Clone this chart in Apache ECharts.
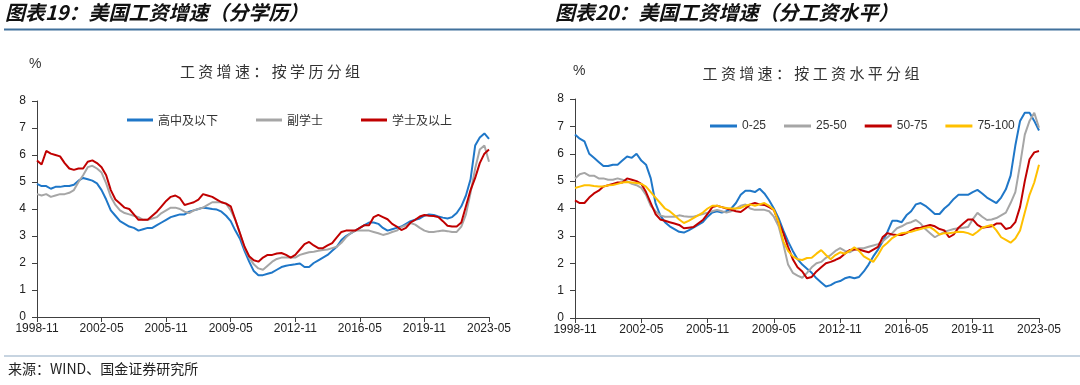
<!DOCTYPE html>
<html>
<head>
<meta charset="utf-8">
<script src="https://cdn.jsdelivr.net/npm/echarts@6/dist/echarts.min.js"></script>
<style>
html,body{margin:0;padding:0;background:#fff;}
#c{width:1080px;height:385px;}
</style>
</head>
<body>
<div id="c"></div>
<script>
// Quarterly sample grid: month offsets from 1998-11 (0 .. 294, every 3 months)
var sampleMonths = [];
for (var k = 0; k <= 294; k += 3) sampleMonths.push(k);

var tickLabels = ['1998-11','2002-05','2005-11','2009-05','2012-11','2016-05','2019-11','2023-05'];

// Chart 19: by education
var eduNames = ['高中及以下','副学士','学士及以上'];
var eduHighSchool = [4.93,4.85,4.85,4.75,4.82,4.82,4.85,4.85,4.90,5.05,
 5.15,5.10,5.05,4.95,4.70,4.35,3.95,3.75,3.55,3.45,
 3.35,3.30,3.20,3.25,3.30,3.30,3.40,3.50,3.60,3.70,
 3.75,3.80,3.80,3.90,3.95,4.00,4.05,4.03,4.00,3.98,
 3.90,3.75,3.55,3.20,2.90,2.45,2.05,1.70,1.55,1.55,
 1.60,1.65,1.75,1.85,1.90,1.93,1.95,1.98,1.85,1.85,
 2.00,2.10,2.20,2.30,2.45,2.60,2.85,3.00,3.10,3.20,
 3.30,3.40,3.50,3.50,3.45,3.30,3.20,3.25,3.30,3.35,
 3.45,3.55,3.60,3.65,3.75,3.80,3.78,3.72,3.68,3.65,
 3.70,3.85,4.10,4.50,5.10,6.35,6.65,6.80,6.60];
var eduAssociate = [4.55,4.50,4.55,4.45,4.50,4.55,4.55,4.60,4.70,5.00,
 5.25,5.55,5.60,5.50,5.35,4.95,4.45,4.15,3.95,3.85,
 3.80,3.75,3.70,3.60,3.60,3.65,3.70,3.85,3.95,4.05,
 4.05,4.00,3.90,3.85,3.95,4.00,4.05,4.15,4.25,4.25,
 4.25,4.20,3.95,3.60,3.10,2.55,2.20,1.95,1.80,1.75,
 1.90,2.05,2.15,2.20,2.20,2.20,2.20,2.30,2.35,2.40,
 2.42,2.45,2.48,2.50,2.55,2.60,2.75,2.95,3.10,3.20,
 3.20,3.20,3.20,3.15,3.10,3.04,3.08,3.15,3.20,3.33,
 3.40,3.48,3.42,3.30,3.20,3.15,3.15,3.18,3.20,3.18,
 3.15,3.15,3.35,3.80,4.60,5.50,6.20,6.35,5.75];
var eduBachelor = [5.80,5.65,6.15,6.05,6.00,5.95,5.70,5.50,5.45,5.50,
 5.50,5.75,5.80,5.70,5.55,5.25,4.70,4.35,4.20,4.05,
 4.00,3.80,3.60,3.60,3.60,3.75,3.90,4.10,4.30,4.45,
 4.50,4.40,4.15,4.20,4.25,4.35,4.55,4.50,4.45,4.35,
 4.25,4.20,4.10,3.60,3.10,2.60,2.25,2.10,2.05,2.20,
 2.30,2.30,2.35,2.37,2.30,2.20,2.30,2.50,2.70,2.78,
 2.65,2.55,2.55,2.65,2.74,2.95,3.15,3.20,3.20,3.20,
 3.30,3.40,3.40,3.70,3.78,3.70,3.62,3.45,3.35,3.22,
 3.30,3.50,3.60,3.72,3.78,3.75,3.74,3.70,3.55,3.38,
 3.35,3.35,3.50,4.10,4.70,5.15,5.70,6.05,6.20];

// Chart 20: by wage quartile
var wageNames = ['0-25','25-50','50-75','75-100'];
var wageQ1 = [6.70,6.55,6.45,6.00,5.85,5.70,5.55,5.55,5.60,5.60,
 5.75,5.90,5.85,6.00,5.75,5.60,5.10,4.20,3.75,3.50,
 3.35,3.25,3.15,3.12,3.20,3.30,3.40,3.50,3.70,3.85,
 3.90,3.85,3.90,4.00,4.20,4.50,4.65,4.65,4.60,4.72,
 4.55,4.30,4.00,3.65,3.20,2.80,2.45,2.15,1.95,1.80,
 1.65,1.45,1.30,1.15,1.20,1.30,1.35,1.45,1.50,1.45,
 1.50,1.70,1.95,2.25,2.50,2.80,3.15,3.55,3.55,3.50,
 3.75,3.90,4.15,4.20,4.10,3.95,3.80,3.80,4.00,4.15,
 4.35,4.50,4.50,4.50,4.60,4.68,4.55,4.40,4.30,4.20,
 4.40,4.70,5.20,6.30,7.20,7.50,7.50,7.20,6.85];
var wageQ2 = [5.10,5.25,5.30,5.20,5.20,5.10,5.10,5.05,5.05,5.10,
 5.05,5.00,4.90,4.85,4.75,4.50,4.10,3.90,3.75,3.70,
 3.70,3.70,3.75,3.72,3.70,3.70,3.75,3.80,3.85,3.90,
 3.95,3.90,3.85,3.90,4.00,4.10,4.15,4.00,3.95,3.95,
 3.95,3.90,3.70,3.35,2.70,1.95,1.65,1.55,1.47,1.65,
 1.85,2.00,2.05,2.20,2.30,2.45,2.55,2.45,2.40,2.50,
 2.55,2.55,2.60,2.65,2.70,2.80,2.95,3.10,3.28,3.35,
 3.45,3.50,3.58,3.45,3.25,3.10,2.95,3.05,3.15,3.20,
 3.25,3.28,3.30,3.32,3.60,3.84,3.70,3.58,3.60,3.65,
 3.75,3.85,4.20,4.60,5.60,6.70,7.20,7.50,6.95];
var wageQ3 = [4.30,4.20,4.20,4.40,4.55,4.65,4.80,4.85,4.90,4.95,
 4.95,5.10,5.05,5.00,4.90,4.60,4.20,3.80,3.60,3.55,
 3.50,3.45,3.40,3.28,3.30,3.32,3.45,3.58,3.80,4.05,
 4.10,4.05,4.00,3.95,3.90,3.87,4.00,4.15,4.20,4.15,
 4.13,4.05,3.95,3.50,3.10,2.60,2.15,1.85,1.70,1.45,
 1.50,1.70,1.85,2.00,2.05,2.12,2.20,2.35,2.48,2.50,
 2.50,2.45,2.40,2.50,2.60,2.96,3.10,3.05,3.03,3.03,
 3.10,3.20,3.28,3.30,3.35,3.40,3.35,3.25,3.20,2.95,
 3.05,3.30,3.45,3.60,3.60,3.40,3.30,3.32,3.35,3.45,
 3.45,3.25,3.30,3.50,4.06,5.00,5.80,6.05,6.10];
var wageQ4 = [4.75,4.80,4.85,4.85,4.82,4.80,4.80,4.85,4.86,4.90,
 4.95,4.97,4.95,4.93,4.90,4.80,4.60,4.40,4.20,4.00,
 3.90,3.75,3.60,3.47,3.55,3.65,3.75,3.85,4.00,4.10,
 4.10,4.05,4.02,4.00,4.00,4.02,4.10,4.15,4.10,4.15,
 4.20,4.10,3.95,3.50,2.80,2.45,2.25,2.15,2.12,2.19,
 2.20,2.35,2.48,2.30,2.15,2.30,2.40,2.35,2.45,2.58,
 2.45,2.25,2.15,2.05,2.30,2.60,2.75,2.92,3.03,3.10,
 3.12,3.15,3.20,3.25,3.30,3.32,3.20,3.05,3.10,3.10,
 3.12,3.15,3.14,3.10,3.03,3.15,3.30,3.35,3.40,3.20,
 2.95,2.85,2.75,2.90,3.20,3.85,4.50,4.95,5.60];

var colors4 = ['#1F77C8','#A6A6A6','#C00000','#FFC000'];
var colors3 = ['#1F77C8','#A6A6A6','#C00000'];

function pairs(vals){ return sampleMonths.map(function(m,i){ return [m, vals[i]]; }); }

var CJK = '"Noto Sans CJK SC", "Liberation Sans", sans-serif';
var LAT = '"Liberation Sans", Arial, sans-serif';

function xAx(g){
  return {gridIndex:g, type:'value', min:0, max:294, interval:42,
    axisLine:{show:true, lineStyle:{color:'#404040', width:1}},
    axisTick:{show:true, length:5, lineStyle:{color:'#404040'}},
    axisLabel:{color:'#222', fontSize:12, fontFamily:LAT, margin:6,
      formatter:function(v){ return tickLabels[Math.round(v/42)]; }},
    splitLine:{show:false}};
}
function yAx(g){
  return {gridIndex:g, type:'value', min:0, max:8, interval:1,
    axisLine:{show:true, lineStyle:{color:'#404040', width:1}},
    axisTick:{show:true, length:5, lineStyle:{color:'#404040'}},
    axisLabel:{color:'#222', fontSize:12, fontFamily:LAT, margin:11},
    splitLine:{show:false}};
}
function ser(name, vals, color, g){
  return {name:name, type:'line', xAxisIndex:g, yAxisIndex:g, data:pairs(vals),
    showSymbol:false, symbol:'none', color:color,
    lineStyle:{width:2, color:color}, animation:false};
}

var chart = echarts.init(document.getElementById('c'), null, {renderer:'canvas'});
chart.setOption({
  backgroundColor:'#fff',
  animation:false,
  title:[
    {text:'工 资 增 速 ： 按 学 历 分 组', left:265, top:59, textAlign:'center',
      textStyle:{fontSize:15, fontWeight:'normal', color:'#333', fontFamily:CJK}},
    {text:'工 资 增 速 ： 按 工 资 水 平 分 组', left:806, top:61, textAlign:'center',
      textStyle:{fontSize:15, fontWeight:'normal', color:'#333', fontFamily:CJK}}
  ],
  legend:[
    {data:eduNames, left:122, top:109, icon:'rect', itemWidth:26, itemHeight:3, itemGap:38,
      textStyle:{fontSize:12, color:'#333', fontFamily:CJK}},
    {data:wageNames, left:705, top:115, icon:'rect', itemWidth:27, itemHeight:3, itemGap:18,
      textStyle:{fontSize:12, color:'#333', fontFamily:LAT}}
  ],
  grid:[
    {left:37, top:101, width:452, height:216},
    {left:575, top:99, width:464, height:219}
  ],
  xAxis:[xAx(0), xAx(1)],
  yAxis:[yAx(0), yAx(1)],
  series:[
    ser(eduNames[0], eduHighSchool, colors3[0], 0),
    ser(eduNames[1], eduAssociate, colors3[1], 0),
    ser(eduNames[2], eduBachelor, colors3[2], 0),
    ser(wageNames[0], wageQ1, colors4[0], 1),
    ser(wageNames[1], wageQ2, colors4[1], 1),
    ser(wageNames[2], wageQ3, colors4[2], 1),
    ser(wageNames[3], wageQ4, colors4[3], 1)
  ],
  graphic:[
    {type:'text', left:5, top:2, style:{text:'图表19：美国工资增速（分学历）', fill:'#111',
      font:'italic bold 20px "Noto Sans CJK SC", sans-serif'}},
    {type:'text', left:555, top:2, style:{text:'图表20：美国工资增速（分工资水平）', fill:'#111',
      font:'italic bold 20px "Noto Sans CJK SC", sans-serif'}},
    {type:'line', shape:{x1:4, y1:29.5, x2:1080, y2:29.5}, style:{stroke:'#41719C', lineWidth:2}},
    {type:'text', left:29, top:57, style:{text:'%', fill:'#333', font:'14px "Liberation Sans", sans-serif'}},
    {type:'text', left:573, top:64, style:{text:'%', fill:'#333', font:'14px "Liberation Sans", sans-serif'}},
    {type:'line', shape:{x1:4, y1:356, x2:1080, y2:356}, style:{stroke:'#8FA9C2', lineWidth:1}},
    {type:'text', left:8, top:362, style:{text:'来源：WIND、国金证券研究所', fill:'#222',
      font:'14px "Noto Sans CJK SC", sans-serif'}}
  ]
});
</script>
</body>
</html>
